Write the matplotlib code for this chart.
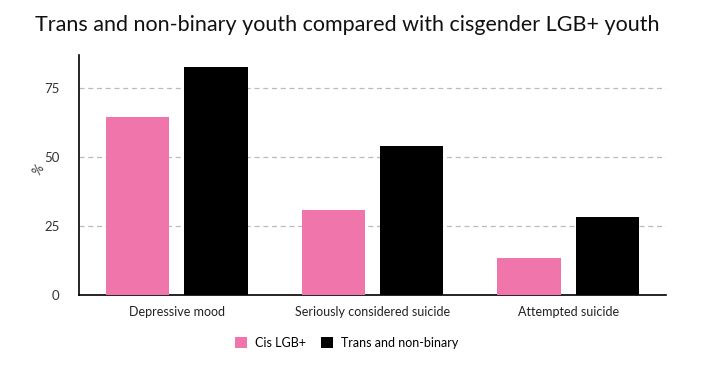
import matplotlib
matplotlib.use("Agg")
import matplotlib.pyplot as plt
import numpy as np

plt.rcParams["font.family"] = ["Lato", "DejaVu Sans"]

# data
categories = ["Depressive mood", "Seriously considered suicide", "Attempted suicide"]
cis_lgb = [64.5, 30.8, 13.5]
trans_nb = [82.6, 54.1, 28.4]
yticks = [0, 25, 50, 75]

pink = "#f075aa"
dark = "#000000"

fig = plt.figure(figsize=(7.14, 3.79), dpi=100)
ax = fig.add_axes([0.1106, 0.2216, 0.8222, 0.6333])

x = np.arange(len(categories))
w = 0.323
ax.bar(x - 0.2, cis_lgb, width=w, color=pink, label="Cis LGB+", zorder=3)
ax.bar(x + 0.2, trans_nb, width=w, color=dark, label="Trans and non-binary", zorder=3)

ax.set_xlim(-0.5, 2.5)
ax.set_ylim(0, 87)
ax.set_xticks(x)
ax.set_xticklabels(categories, fontsize=9, color="#222222")
ax.set_yticks(yticks)
ax.set_yticklabels([str(t) for t in yticks], fontsize=9.5, color="#333333")
ax.tick_params(axis="both", length=0, pad=8)
ax.tick_params(axis="y", pad=14)
ax.set_ylabel("%", fontsize=9, rotation=60, color="#333333")
ax.yaxis.set_label_coords(-0.06, 0.51)

for yv in yticks[1:]:
    ax.axhline(yv, color="#bbbbbb", linestyle=(0, (4, 3)), linewidth=0.9, zorder=1)

for s in ["top", "right"]:
    ax.spines[s].set_visible(False)
ax.spines["left"].set_linewidth(1.2)
ax.spines["bottom"].set_linewidth(1.2)

fig.text(0.049, 0.935, "Trans and non-binary youth compared with cisgender LGB+ youth",
         fontsize=15.5, color="#111111", va="center", ha="left")

fig.legend(loc="center", bbox_to_anchor=(0.485, 0.095), ncol=2, frameon=False,
           fontsize=9, handlelength=1.0, handleheight=1.0, columnspacing=1.2,
           handletextpad=0.6)

fig.savefig("out.png", dpi=100)
